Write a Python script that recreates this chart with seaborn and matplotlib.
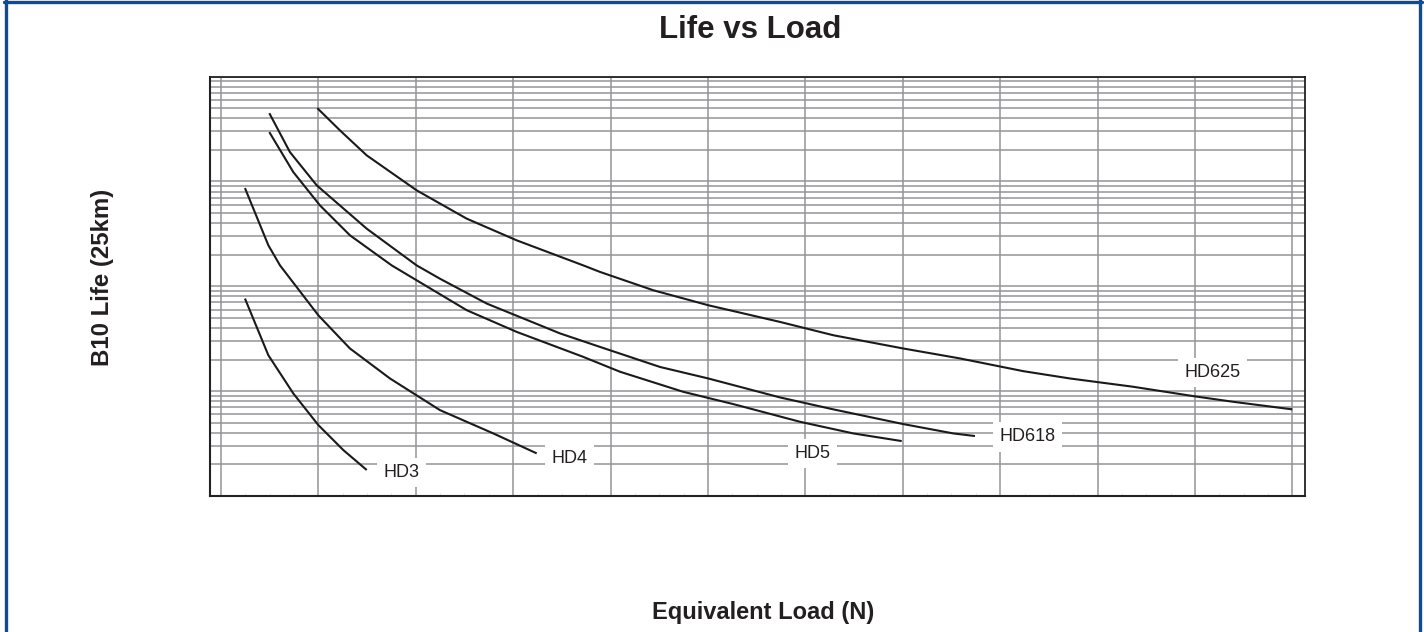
import matplotlib
matplotlib.use("Agg")
import matplotlib.pyplot as plt
from matplotlib.lines import Line2D
from matplotlib.ticker import MultipleLocator, LogLocator, NullFormatter
import numpy as np
import pandas as pd
import seaborn as sns

# ---------------- data ----------------
hd3_load = [1246, 1486, 1742, 1999, 2256, 2496]
hd3_life = [76.3, 22.0, 9.51, 4.75, 2.74, 1.77]

hd4_load = [1246, 1486, 1606, 1999, 2324, 2735, 3248, 3796, 4241]
hd4_life = [863, 246, 158, 52.9, 25.5, 13.2, 6.59, 3.95, 2.55]

hd5_load = [1496, 1742, 2016, 2324, 2753, 3523, 4036, 4720, 5097, 5746, 6260, 6945, 7492, 7989]
hd5_life = [2950, 1227, 590, 306, 158, 59.1, 36.7, 21.2, 15.3, 9.85, 7.52, 5.10, 3.95, 3.34]

hd618_load = [1496, 1708, 1983, 2496, 3009, 3248, 3728, 4481, 4891, 5507, 6003, 6739, 7287, 8005, 8519, 8741]
hd618_life = [4470, 1901, 916, 354, 158, 118, 68.4, 35.5, 26.4, 17.0, 13.2, 8.71, 6.70, 4.85, 3.95, 3.73]

hd625_load = [1989, 2222, 2496, 3009, 3523, 4036, 4720, 4891, 5438, 6003, 6739, 7287, 8005, 8587,
              9237, 9717, 10367, 10983, 11393, 11999]
hd625_life = [4990, 3060, 1770, 821, 441, 274, 158, 137, 91.6, 65.9, 45.7, 34.1, 25.5, 20.5,
              15.5, 13.2, 11.0, 8.96, 7.91, 6.70]

series_names = ["HD3", "HD4", "HD5", "HD618", "HD625"]
label_load = [2853, 4580, 7073, 9280, 11180]
label_life = [1.67, 2.30, 2.55, 3.67, 15.0]

title_text = "Life vs Load"
xlabel_text = "Equivalent Load (N)"
ylabel_text = "B10 Life (25km)"

# ---------------- build long-form table ----------------
loads = [hd3_load, hd4_load, hd5_load, hd618_load, hd625_load]
lives = [hd3_life, hd4_life, hd5_life, hd618_life, hd625_life]
frames = []
for name, xs, ys in zip(series_names, loads, lives):
    frames.append(pd.DataFrame({"load": xs, "life": ys, "model": name}))
df = pd.concat(frames, ignore_index=True)

# ---------------- styling ----------------
sns.set_theme(style="white")
plt.rcParams["font.family"] = ["Liberation Sans", "DejaVu Sans"]

W, H = 1424, 632
fig = plt.figure(figsize=(W / 100, H / 100), dpi=100)
fig.patch.set_facecolor("white")

ax_left, ax_right, ax_top, ax_bottom = 210, 1305, 76.5, 496
ax = fig.add_axes([ax_left / W, 1 - ax_bottom / H,
                   (ax_right - ax_left) / W, (ax_bottom - ax_top) / H])
ax.set_facecolor("white")

sns.lineplot(data=df, x="load", y="life", hue="model", units="model",
             estimator=None, sort=False,
             palette={n: "#1a1a1a" for n in series_names},
             linewidth=1.5, legend=False, ax=ax, zorder=3,
             solid_joinstyle="round", solid_capstyle="butt")

ax.set_yscale("log")
ax.set_ylim(1, 1e4)
ax.set_xlim(1000 + (ax_left - 221) * 10.267, 1000 + (ax_right - 221) * 10.267)

ax.xaxis.set_major_locator(MultipleLocator(1000))
ax.xaxis.set_minor_locator(MultipleLocator(250))
ax.yaxis.set_major_locator(LogLocator(base=10, numticks=10))
ax.yaxis.set_minor_locator(LogLocator(base=10, subs=np.arange(2, 10), numticks=20))

grid_color = "#949498"
ax.grid(True, which="major", axis="both", color=grid_color, linewidth=1.1)
ax.grid(True, which="minor", axis="y", color=grid_color, linewidth=1.1)
ax.set_axisbelow(True)

ax.xaxis.set_major_formatter(NullFormatter())
ax.xaxis.set_minor_formatter(NullFormatter())
ax.yaxis.set_major_formatter(NullFormatter())
ax.yaxis.set_minor_formatter(NullFormatter())
ax.tick_params(axis="y", which="both", length=0)
ax.tick_params(axis="x", which="major", length=0)
ax.tick_params(axis="x", which="minor", direction="in", length=2.5, width=0.5, color="#dcdcdc",
               bottom=True)
ax.set_xlabel("")
ax.set_ylabel("")

for side, sp in ax.spines.items():
    sp.set_visible(True)
    sp.set_color("#222222")
    sp.set_linewidth(1.5 if side in ("left", "bottom") else 1.3)

# series labels with white boxes hiding the grid
for name, lx, ly in zip(series_names, label_load, label_life):
    ax.text(lx, ly, name, ha="center", va="center", fontsize=13, color="#231f20",
            zorder=4,
            bbox=dict(boxstyle="square,pad=0.35", facecolor="white", edgecolor="none"))

# titles
fig.text(750 / W, 1 - 30 / H, title_text, ha="center", va="center",
         fontsize=22.5, fontweight="bold", color="#231f20")
fig.text(763 / W, 1 - 612 / H, xlabel_text, ha="center", va="center",
         fontsize=17, fontweight="bold", color="#231f20")
fig.text(103 / W, 1 - 277 / H, ylabel_text, ha="center", va="center", rotation=90,
         fontsize=17.3, fontweight="bold", color="#231f20")

# blue frame (top, left, right)
blue = "#0b4c9a"
fig.add_artist(Line2D([5.5 / W, 5.5 / W], [0, 1], color=blue, linewidth=2.4,
                      transform=fig.transFigure))
fig.add_artist(Line2D([1420 / W, 1420 / W], [0, 1], color=blue, linewidth=2.4,
                      transform=fig.transFigure))
fig.add_artist(Line2D([4 / W, 1421.5 / W], [1 - 1.5 / H, 1 - 1.5 / H], color=blue,
                      linewidth=2.4, transform=fig.transFigure))

fig.savefig("out.png", dpi=100, facecolor="white")
